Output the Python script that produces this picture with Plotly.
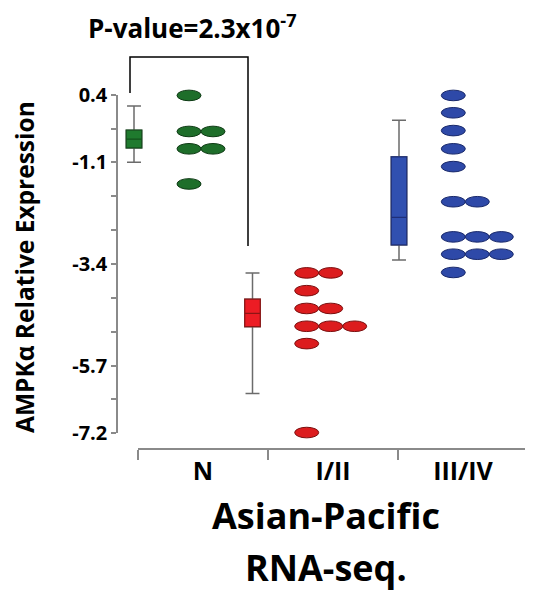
import plotly.graph_objects as go

# ---------------- data ----------------
categories = ["N", "I/II", "III/IV"]

n_values = [0.39, -0.42, -0.42, -0.81, -0.81, -1.60]
i_ii_values = [-3.60, -3.60, -4.00, -4.40, -4.40, -4.80, -4.80, -4.80, -5.19, -7.19]
iii_iv_values = [0.39, 0.00, -0.40, -0.81, -1.21, -2.00, -2.00,
                 -2.79, -2.79, -2.79, -3.18, -3.18, -3.18, -3.59]

box_lowerfence = [-1.11, -6.31, -3.31]
box_q1 = [-0.79, -4.81, -2.97]
box_median = [-0.59, -4.51, -2.35]
box_q3 = [-0.39, -4.19, -0.99]
box_upperfence = [0.15, -3.60, -0.17]

y_tick_values = [0.4, -1.1, -3.4, -5.7, -7.2]
y_tick_labels = ["0.4", "-1.1", "-3.4", "-5.7", "-7.2"]
y_minor_tick_values = [-0.36, -1.88, -2.64, -4.16, -4.92, -6.44]

p_value_text = "P-value=2.3x10<sup>-7</sup>"

# ---------------- layout constants ----------------
W, H = 533, 595
OFF = 8                                   # page body margin (screen px -> figure px)
L, R, T, B = 100, 533, 40, 452            # data plotting area in screen pixels
X_CENTER0, X_PX_PER_UNIT = 203.0, 130.0
Y_TOP_PX, Y_BOT_PX = 95.0, 433.0
Y_TOP_V, Y_BOT_V = 0.4, -7.2
PXU = (Y_BOT_PX - Y_TOP_PX) / (Y_TOP_V - Y_BOT_V)

def xd(px):
    return (px - X_CENTER0) / X_PX_PER_UNIT

def yd(py):
    return Y_TOP_V - (py - Y_TOP_PX) / PXU

def fx(px):
    return (px - L) / (R - L)

def fy(py):
    return (B - py) / (B - T)

box_pos = [xd(134), xd(252.5), xd(399)]
dot_pos = [xd(189), xd(306.7), xd(453.3)]
box_width = 15.5 / X_PX_PER_UNIT

box_fill = ["#1f7a2e", "#ec1c24", "#3150b0"]
box_edge = ["#14501d", "#8e1414", "#1f2f78"]
dot_fill = ["#1e6e2a", "#dc1c1e", "#2e49a8"]
dot_edge = ["#0e3a14", "#7a0e0e", "#18286a"]
whisker_col = "#6b6b6b"
axis_col = "#8a8a8a"
FONT = "Open Sans"

fig = go.Figure()

# whiskers (grey)
for i in range(3):
    fig.add_trace(go.Box(
        x=[box_pos[i]], q1=[box_q1[i]], median=[box_median[i]], q3=[box_q3[i]],
        lowerfence=[box_lowerfence[i]], upperfence=[box_upperfence[i]],
        width=box_width, whiskerwidth=0.9, fillcolor="rgba(0,0,0,0)",
        line=dict(color=whisker_col, width=1.5), boxpoints=False,
        showlegend=False, hoverinfo="skip", xaxis="x", yaxis="y"))
# coloured boxes
for i in range(3):
    fig.add_trace(go.Box(
        x=[box_pos[i]], q1=[box_q1[i]], median=[box_median[i]], q3=[box_q3[i]],
        lowerfence=[box_q1[i]], upperfence=[box_q3[i]],
        width=box_width, whiskerwidth=0, fillcolor=box_fill[i],
        line=dict(color=box_edge[i], width=1.2), boxpoints=False,
        showlegend=False, hoverinfo="skip", xaxis="x", yaxis="y"))

# dummy trace for display axes
fig.add_trace(go.Scatter(x=categories, y=[0, 0, 0], mode="markers",
                         marker=dict(opacity=0), showlegend=False,
                         hoverinfo="skip", xaxis="x2", yaxis="y2"))

# dots as ellipses
shapes = []
for i, vals in enumerate([n_values, i_ii_values, iii_iv_values]):
    seen = {}
    for v in vals:
        k = seen.get(v, 0)
        seen[v] = k + 1
        shapes.append(dict(
            type="circle", xref="x", yref="y",
            xsizemode="pixel", ysizemode="pixel",
            xanchor=dot_pos[i], yanchor=v,
            x0=k * 24 - 12, x1=k * 24 + 12, y0=-5.3, y1=5.3,
            fillcolor=dot_fill[i], line=dict(color=dot_edge[i], width=1)))

# significance bracket
bx0, bx1 = xd(130), xd(248)
shapes.append(dict(type="path", xref="x", yref="y",
                   path=f"M {bx0},{yd(93)} L {bx0},{yd(57)} L {bx1},{yd(57)} L {bx1},{yd(246)}",
                   line=dict(color="black", width=1.5)))

def ann(text, px, py, size, angle=0):
    return dict(text=text, x=fx(px), y=fy(py), xref="paper", yref="paper",
                xanchor="center", yanchor="middle", textangle=angle,
                showarrow=False, borderpad=0,
                font=dict(family=FONT, size=size, color="black", weight="bold"))

annotations = [
    ann(p_value_text, 192, 27, 26),
    ann("AMPK\u03b1 Relative Expression", 24, 267, 24.5, -90),
    ann("Asian-Pacific", 326, 515, 36),
    ann("RNA-seq.", 326, 567, 36),
]

fig.update_layout(
    width=W, height=H,
    margin=dict(l=L - OFF, r=W - R + OFF, t=T - OFF, b=H - B + OFF, pad=0),
    paper_bgcolor="white", plot_bgcolor="rgba(0,0,0,0)",
    showlegend=False,
    xaxis=dict(domain=[0, 1], range=[xd(L), xd(R)], visible=False, fixedrange=True),
    yaxis=dict(domain=[0, 1], range=[yd(B), yd(T)], visible=False, fixedrange=True),
    xaxis2=dict(type="category", categoryorder="array", categoryarray=categories,
                domain=[fx(138), fx(528)], range=[-0.5, 2.5], anchor="free",
                position=fy(449), showline=True, linecolor=axis_col, linewidth=1.5,
                ticks="outside", tickson="boundaries", ticklen=10, tickcolor=axis_col,
                tickwidth=1.5, showgrid=False, zeroline=False,
                tickfont=dict(family=FONT, size=25, color="black", weight="bold")),
    yaxis2=dict(domain=[fy(Y_BOT_PX), fy(Y_TOP_PX)], range=[Y_BOT_V, Y_TOP_V],
                anchor="free", position=fx(117), showline=True, linecolor=axis_col,
                linewidth=1.5, ticks="outside", ticklen=5, tickcolor=axis_col,
                tickwidth=1.5, tickmode="array", tickvals=y_tick_values,
                ticktext=y_tick_labels, showgrid=False, zeroline=False,
                minor=dict(tickmode="array", tickvals=y_minor_tick_values,
                           ticks="outside", ticklen=5, tickcolor=axis_col, tickwidth=1.5,
                           showgrid=False),
                tickfont=dict(family=FONT, size=20, color="black", weight="bold")),
    shapes=shapes,
    annotations=annotations,
)

fig.write_html("out.html")
